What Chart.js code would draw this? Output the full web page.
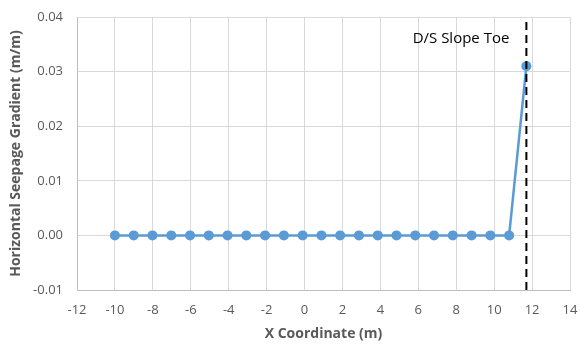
<!DOCTYPE html>
<html>
<head>
<meta charset="utf-8">
<script src="https://cdn.jsdelivr.net/npm/chart.js@4"></script>
<style>
  html, body { margin: 0; padding: 0; background: #fff; }
  #wrap { width: 580px; height: 348px; }
</style>
</head>
<body>
<div id="wrap"><canvas id="chart" width="580" height="348"></canvas></div>
<script>
// Data
const xCoords = [-10, -9.01, -8.02, -7.03, -6.04, -5.05, -4.06, -3.07, -2.08, -1.09, -0.1,
  0.89, 1.88, 2.87, 3.86, 4.85, 5.84, 6.83, 7.82, 8.81, 9.8, 10.79, 11.7];
const gradients = [0, 0, 0, 0, 0, 0, 0, 0, 0, 0, 0,
  0, 0, 0, 0, 0, 0, 0, 0, 0, 0, 0, 0.031];
const toeX = 11.7;
const toeLabel = 'D/S Slope Toe';
const xRange = [-12, 14];
const yRange = [-0.01, 0.04];

const gray = '#595959';
const font = 'Open Sans, Liberation Sans, sans-serif';

const seriesPts = xCoords.map((x, i) => ({ x, y: gradients[i] }));
const toePts = [{ x: toeX, y: yRange[0] }, { x: toeX, y: yRange[1] }];

// text label next to the dashed line
const labelPlugin = {
  id: 'toeLabel',
  afterDatasetsDraw(chart) {
    const { ctx, scales } = chart;
    const px = scales.x.getPixelForValue(toeX) - 17;
    const py = scales.y.getPixelForValue(yRange[1]) + 22;
    ctx.save();
    ctx.font = '15px ' + font;
    ctx.fillStyle = '#000';
    ctx.textAlign = 'right';
    ctx.textBaseline = 'middle';
    ctx.fillText(toeLabel, px, py);
    ctx.restore();
  }
};

new Chart(document.getElementById('chart'), {
  type: 'scatter',
  data: {
    datasets: [
      {
        data: seriesPts,
        showLine: true,
        borderColor: '#5b9bd5',
        backgroundColor: '#5b9bd5',
        borderWidth: 2.5,
        pointRadius: 5,
        pointBorderWidth: 0,
        order: 2,
      },
      {
        data: toePts,
        showLine: true,
        borderColor: '#000',
        borderWidth: 2,
        borderDash: [8, 5],
        pointRadius: 0,
        order: 1,
      },
    ],
  },
  options: {
    animation: false,
    responsive: false,
    layout: { padding: { top: 17, right: 0, left: 0, bottom: 6 } },
    plugins: { legend: { display: false }, tooltip: { enabled: false } },
    scales: {
      x: {
        type: 'linear',
        min: xRange[0],
        max: xRange[1],
        ticks: { stepSize: 2, color: gray, font: { size: 13, family: font }, padding: 12 },
        grid: { color: '#d9d9d9', drawTicks: false },
        border: { color: '#bfbfbf' },
        title: { display: true, text: 'X Coordinate (m)', color: gray, font: { size: 14, weight: 'bold', family: font }, padding: 0 },
        afterFit(s) { s.height = 52; s.paddingRight = 10; s.paddingLeft = 0; },
      },
      y: {
        min: yRange[0],
        max: yRange[1],
        ticks: { stepSize: 0.01, color: gray, font: { size: 13, family: font }, padding: 14,
          callback: (v) => v.toFixed(2) },
        grid: { color: '#d9d9d9', drawTicks: false },
        border: { color: '#bfbfbf' },
        title: { display: true, text: 'Horizontal Seepage Gradient (m/m)', color: gray, font: { size: 14, weight: 'bold', family: font }, padding: { top: 8, bottom: 0 } },
        afterFit(s) { s.width = 77; s.paddingTop = 0; s.paddingBottom = 0; },
      },
    },
  },
  plugins: [labelPlugin],
});
</script>
</body>
</html>
